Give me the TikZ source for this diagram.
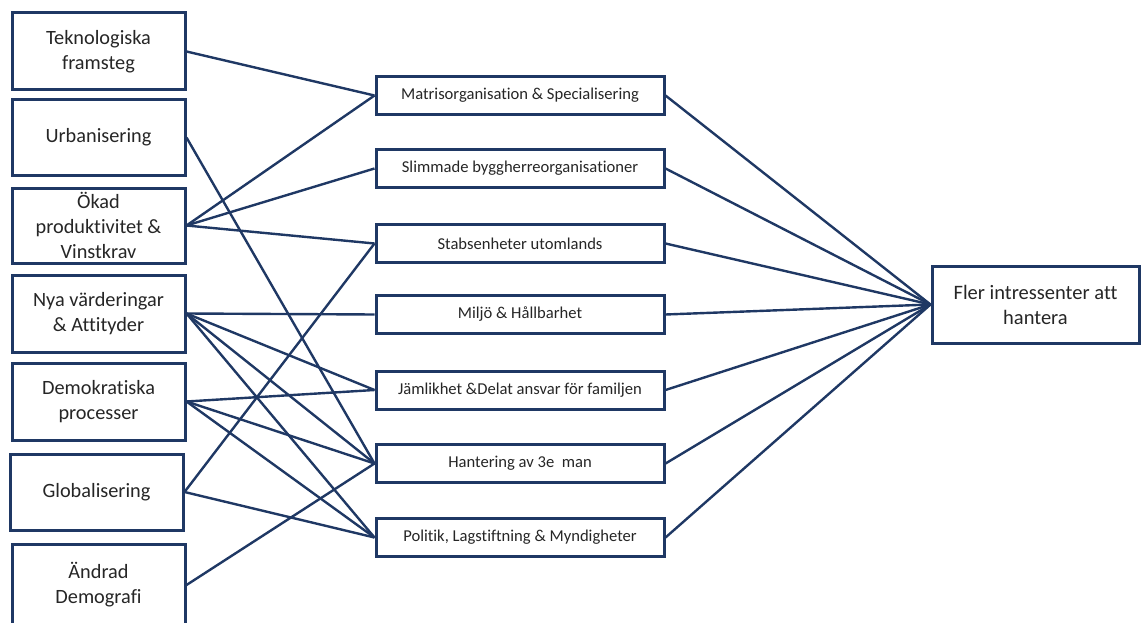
\documentclass[tikz,border=0pt]{standalone}
\usepackage{fontspec}
\setmainfont{Carlito}[Ligatures=NoCommon]
\definecolor{navy}{HTML}{1F3864}
\definecolor{txt}{HTML}{262626}
\begin{document}
\begin{tikzpicture}[x=1pt,y=-1pt,
  box/.style={draw=navy,line width=3pt,fill=white,inner sep=0pt,text=txt,align=center},
  leftbox/.style={box,minimum width=173pt,minimum height=77pt,font=\fontsize{20.3}{25}\selectfont},
  midbox/.style={box,minimum width=288pt,minimum height=38pt,font=\fontsize{16.6}{19}\selectfont},
  rightbox/.style={box,minimum width=207pt,minimum height=77pt,font=\fontsize{20.5}{25}\selectfont},
  link/.style={draw=navy,line width=2.4pt}]
\useasboundingbox (0,0) rectangle (1142,623);
\clip (0,0) rectangle (1142,623);
% left column
\node[leftbox] (t1) at (98.5,51.5) {Teknologiska\\framsteg};
\node[leftbox,minimum height=75pt] (t2) at (98.5,137.5) {Urbanisering};
\node[leftbox,minimum height=75pt] (t3) at (98.5,225.5) {Ökad\\produktivitet \&\\Vinstkrav};
\node[leftbox] (t4) at (98.5,313.5) {Nya värderingar\\\& Attityder};
\node[leftbox] (t5) at (98.5,401.5) {Demokratiska\\processer};
\node[leftbox,minimum height=76pt] (t6) at (96.5,492) {Globalisering};
\node[leftbox,minimum height=82pt] (t7) at (98.5,585) {Ändrad\\Demografi};
% middle column
\node[midbox] (m1) at (520,95.5) {Matrisorganisation \& Specialisering};
\node[midbox] (m2) at (520,168.5) {Slimmade byggherreorganisationer};
\node[midbox] (m3) at (520,243.5) {Stabsenheter utomlands};
\node[midbox] (m4) at (520,314.5) {Miljö \& Hållbarhet};
\node[midbox] (m5) at (520,390) {Jämlikhet \&Delat ansvar för familjen};
\node[midbox] (m6) at (520,463.5) {Hantering av 3e\ \ man};
\node[midbox] (m7) at (520,537.5) {Politik, Lagstiftning \& Myndigheter};
% right
\node[rightbox] (r) at (1035.5,304.5) {Fler intressenter att\\hantera};
% connectors left -> middle
\draw[link] (t1.east) -- (m1.west);
\draw[link] (t2.east) -- (m6.west);
\draw[link] (t3.east) -- (m1.west);
\draw[link] (t3.east) -- (m2.west);
\draw[link] (t3.east) -- (m3.west);
\draw[link] (t4.east) -- (m4.west);
\draw[link] (t4.east) -- (m5.west);
\draw[link] (t4.east) -- (m6.west);
\draw[link] (t4.east) -- (m7.west);
\draw[link] (t5.east) -- (m5.west);
\draw[link] (t5.east) -- (m6.west);
\draw[link] (t5.east) -- (m7.west);
\draw[link] (t6.east) -- (m3.west);
\draw[link] (t6.east) -- (m7.west);
\draw[link] (t7.east) -- (m6.west);
% middle -> right
\foreach \m in {m1,m2,m3,m4,m5,m6,m7}
  \draw[link] (\m.east) -- (r.west);
\end{tikzpicture}
\end{document}
